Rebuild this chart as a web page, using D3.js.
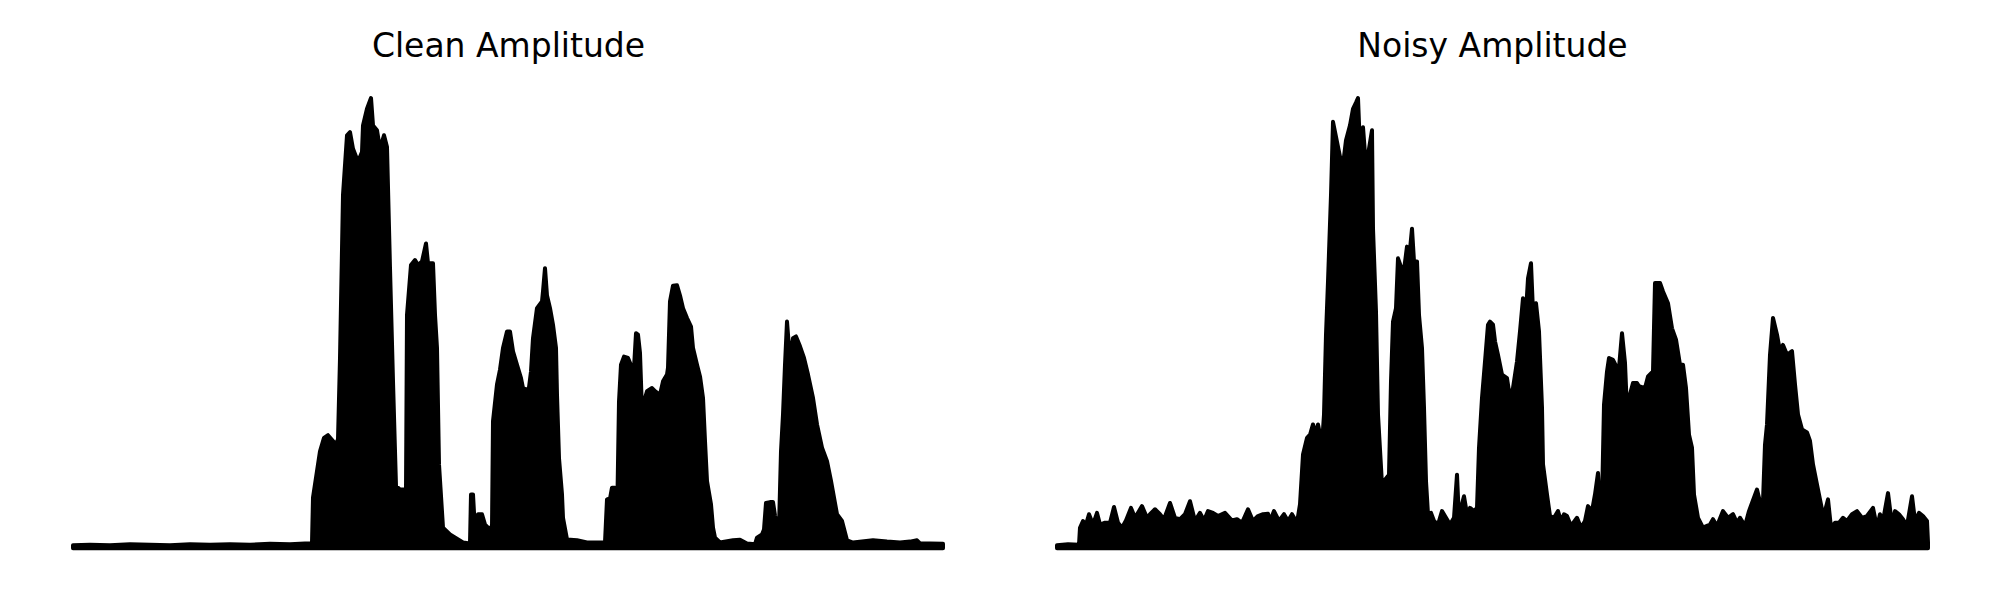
<!DOCTYPE html>
<html lang="en">
<head>
<meta charset="UTF-8">
<title>Clean vs Noisy Amplitude</title>
<script src="https://d3js.org/d3.v7.min.js"></script>
<style>
    body {
        margin: 0;
        background-color: #ffffff;
    }
    .title {
        font-family: "DejaVu Sans", sans-serif;
        font-size: 33px;
        fill: #000;
    }
</style>
</head>
<body>
<div id="chart"></div>
<script>
    // envelope of the amplitude trace (frame index, amplitude)
    const cleanFrames = [
        0, 17, 37, 57, 77, 97, 117, 137, 157, 177,
        197, 217, 232, 239, 240, 247, 251, 255, 260, 263,
        265, 267, 270, 274, 277, 280, 285, 289, 290, 294,
        298, 300, 304, 307, 311, 314, 317, 320, 323, 327,
        333, 334, 338, 342, 345, 349, 353, 355, 360, 362,
        364, 366, 370, 377, 390, 397, 398, 400, 402, 405,
        409, 412, 415, 419, 420, 424, 427, 430, 434, 437,
        440, 444, 448, 450, 454, 456, 458, 460, 464, 469,
        470, 472, 474, 477, 480, 483, 484, 486, 489, 490,
        494, 504, 514, 532, 534, 537, 539, 542, 544, 546,
        548, 551, 555, 559, 561, 563, 565, 567, 569, 571,
        574, 579, 582, 587, 590, 594, 595, 597, 600, 604,
        607, 610, 614, 618, 620, 624, 627, 630, 632, 634,
        638, 640, 642, 647, 660, 667, 674, 682, 684, 689,
        691, 693, 697, 700, 702, 704, 706, 708, 710, 712,
        714, 717, 720, 723, 727, 731, 735, 740, 744, 749,
        754, 758, 764, 769, 774, 780, 800, 814, 827, 837,
        844, 847, 857, 870
    ];
    const cleanAmp = [
        0.004, 0.005, 0.004, 0.006, 0.005, 0.004, 0.006, 0.005, 0.006, 0.005,
        0.007, 0.006, 0.008, 0.008, 0.11, 0.213, 0.243, 0.249, 0.236, 0.228,
        0.24, 0.42, 0.784, 0.917, 0.924, 0.887, 0.858, 0.88, 0.939, 0.976,
        1.0, 0.939, 0.928, 0.887, 0.917, 0.891, 0.621, 0.369, 0.136, 0.128,
        0.128, 0.517, 0.628, 0.639, 0.628, 0.636, 0.676, 0.632, 0.632, 0.517,
        0.443, 0.184, 0.043, 0.028, 0.01, 0.008, 0.117, 0.117, 0.036, 0.073,
        0.073, 0.05, 0.043, 0.043, 0.28, 0.362, 0.395, 0.443, 0.48, 0.48,
        0.436, 0.406, 0.376, 0.354, 0.35, 0.355, 0.391, 0.465, 0.532, 0.547,
        0.569, 0.621, 0.56, 0.532, 0.495, 0.443, 0.339, 0.198, 0.117, 0.065,
        0.017, 0.015, 0.01, 0.01, 0.106, 0.108, 0.132, 0.132, 0.05, 0.324,
        0.406, 0.424, 0.421, 0.399, 0.399, 0.476, 0.473, 0.432, 0.302, 0.324,
        0.347, 0.354, 0.347, 0.339, 0.369, 0.384, 0.399, 0.547, 0.582, 0.583,
        0.56, 0.532, 0.51, 0.491, 0.443, 0.406, 0.38, 0.332, 0.236, 0.147,
        0.095, 0.043, 0.021, 0.01, 0.015, 0.016, 0.008, 0.006, 0.021, 0.028,
        0.039, 0.098, 0.1, 0.1, 0.07, 0.048, 0.043, 0.213, 0.295, 0.406,
        0.502, 0.415, 0.465, 0.469, 0.447, 0.421, 0.384, 0.332, 0.273, 0.221,
        0.191, 0.147, 0.073, 0.058, 0.015, 0.01, 0.015, 0.012, 0.01, 0.012,
        0.015, 0.008, 0.008, 0.007
    ];

    const noisyFrames = [
        0, 11, 22, 23, 26, 29, 32, 36, 40, 43,
        48, 53, 57, 61, 65, 69, 74, 78, 85, 90,
        93, 98, 103, 107, 113, 118, 123, 128, 133, 138,
        143, 147, 151, 156, 161, 168, 175, 180, 185, 191,
        196, 201, 206, 211, 213, 217, 222, 227, 231, 235,
        240, 243, 246, 250, 253, 256, 259, 261, 265, 267,
        269, 271, 274, 276, 280, 284, 286, 289, 293, 296,
        299, 301, 303, 306, 309, 312, 315, 316, 319, 321,
        325, 328, 332, 334, 336, 339, 341, 344, 347, 350,
        352, 355, 357, 360, 362, 365, 367, 369, 371, 374,
        377, 381, 385, 389, 393, 397, 400, 402, 404, 407,
        410, 413, 417, 420, 422, 425, 428, 431, 433, 436,
        438, 441, 445, 450, 453, 456, 460, 463, 466, 469,
        471, 474, 476, 479, 482, 485, 486, 490, 493, 497,
        501, 504, 507, 510, 514, 520, 524, 528, 531, 535,
        538, 541, 543, 545, 547, 550, 552, 556, 560, 562,
        565, 568, 570, 572, 576, 580, 582, 588, 591, 596,
        598, 603, 606, 611, 615, 619, 623, 626, 629, 632,
        635, 637, 641, 646, 650, 653, 656, 660, 666, 671,
        676, 680, 683, 688, 692, 695, 700, 704, 706, 708,
        710, 713, 716, 720, 723, 726, 730, 735, 738, 741,
        745, 750, 753, 756, 760, 765, 768, 771, 774, 778,
        782, 786, 790, 795, 800, 805, 810, 816, 820, 823,
        826, 831, 835, 838, 842, 846, 850, 855, 858, 862,
        866, 870, 871
    ];
    const noisyAmp = [
        0.004, 0.006, 0.005, 0.043, 0.058, 0.05, 0.073, 0.05, 0.076, 0.05,
        0.054, 0.054, 0.089, 0.054, 0.043, 0.059, 0.087, 0.065, 0.091, 0.065,
        0.073, 0.084, 0.073, 0.062, 0.098, 0.065, 0.062, 0.073, 0.102, 0.058,
        0.076, 0.059, 0.08, 0.076, 0.069, 0.076, 0.059, 0.062, 0.054, 0.084,
        0.058, 0.069, 0.073, 0.074, 0.058, 0.08, 0.058, 0.073, 0.058, 0.073,
        0.054, 0.095, 0.206, 0.243, 0.25, 0.273, 0.25, 0.273, 0.228, 0.295,
        0.473, 0.591, 0.784, 0.947, 0.902, 0.858, 0.85, 0.906, 0.939, 0.976,
        0.99, 1.0, 0.887, 0.935, 0.846, 0.887, 0.928, 0.709, 0.524, 0.295,
        0.139, 0.15, 0.161, 0.369, 0.502, 0.532, 0.643, 0.624, 0.617, 0.669,
        0.639, 0.709, 0.636, 0.636, 0.517, 0.443, 0.31, 0.147, 0.073, 0.076,
        0.058, 0.05, 0.08, 0.065, 0.05, 0.065, 0.161, 0.06, 0.087, 0.113,
        0.073, 0.087, 0.08, 0.087, 0.221, 0.332, 0.413, 0.495, 0.502, 0.495,
        0.458, 0.428, 0.384, 0.376, 0.332, 0.354, 0.413, 0.48, 0.554, 0.524,
        0.598, 0.632, 0.524, 0.543, 0.48, 0.31, 0.184, 0.117, 0.069, 0.065,
        0.08, 0.058, 0.073, 0.069, 0.047, 0.065, 0.043, 0.058, 0.091, 0.08,
        0.117, 0.165, 0.08, 0.1, 0.317, 0.391, 0.421, 0.417, 0.399, 0.399,
        0.476, 0.41, 0.302, 0.332, 0.365, 0.365, 0.358, 0.354, 0.38, 0.391,
        0.588, 0.588, 0.569, 0.543, 0.487, 0.462, 0.406, 0.406, 0.354, 0.25,
        0.221, 0.117, 0.065, 0.043, 0.047, 0.05, 0.062, 0.047, 0.08, 0.065,
        0.073, 0.054, 0.065, 0.047, 0.08, 0.098, 0.128, 0.091, 0.102, 0.228,
        0.273, 0.428, 0.51, 0.473, 0.436, 0.45, 0.428, 0.436, 0.362, 0.295,
        0.262, 0.255, 0.236, 0.184, 0.139, 0.084, 0.08, 0.106, 0.043, 0.054,
        0.054, 0.065, 0.058, 0.073, 0.08, 0.065, 0.069, 0.087, 0.043, 0.073,
        0.058, 0.12, 0.05, 0.08, 0.073, 0.062, 0.047, 0.113, 0.058, 0.076,
        0.069, 0.058, 0.01
    ];

    const panelTitles = ['Clean Amplitude', 'Noisy Amplitude'];

    const width = 2000;
    const height = 600;

    const svg = d3.select('#chart').append('svg')
        .attr('width', width)
        .attr('height', height);

    const panels = [
        { title: panelTitles[0], frames: cleanFrames, amp: cleanAmp, left: 73 },
        { title: panelTitles[1], frames: noisyFrames, amp: noisyAmp, left: 1057 }
    ];

    const plotWidth = 871;
    const y = d3.scaleLinear().domain([0, 1]).range([547, 98]);

    panels.forEach(p => {
        const x = d3.scaleLinear()
            .domain([0, 871])
            .range([p.left, p.left + plotWidth]);

        const points = p.frames.map((f, i) => ({ f: f, a: p.amp[i] }));

        const area = d3.area()
            .x(d => x(d.f))
            .y0(y(-0.003))
            .y1(d => y(d.a));

        const g = svg.append('g');

        g.append('path')
            .datum(points)
            .attr('d', area)
            .attr('fill', '#000')
            .attr('stroke', '#000')
            .attr('stroke-width', 4)
            .attr('stroke-linejoin', 'round')
            .attr('stroke-linecap', 'round');

        g.append('text')
            .attr('class', 'title')
            .attr('x', p.left + plotWidth / 2)
            .attr('y', 57)
            .attr('text-anchor', 'middle')
            .text(p.title);
    });
</script>
</body>
</html>
